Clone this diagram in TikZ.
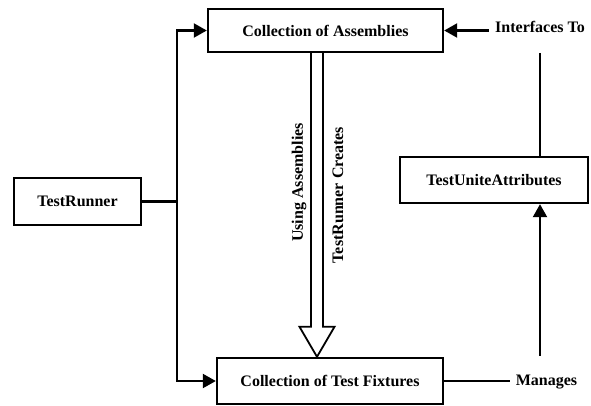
\documentclass[tikz,border=0pt]{standalone}
\usepackage{fontspec}
\setmainfont{Liberation Serif}
\usetikzlibrary{arrows.meta,calc}

\tikzset{
    box/.style={draw, line width=2.4pt, inner sep=0pt, font=\bfseries\fontsize{16}{19}\selectfont},
    note/.style={inner sep=6pt, font=\bfseries\fontsize{16}{19}\selectfont},
    side/.style={rotate=90, inner sep=0pt, font=\bfseries\fontsize{16}{19}\selectfont},
    link/.style={line width=2.2pt},
    arr/.style={link, -{Triangle[length=13pt,width=14pt]}},
    hollow/.style={line width=1.8pt, fill=white}
}

\begin{document}
\begin{tikzpicture}[x=1pt, y=-1pt]
    \useasboundingbox (0,0) rectangle (591,405);
    % boxes
    \node[box, minimum width=235pt, minimum height=43pt] (asm) at (325.5,30.5) {Collection of Assemblies};
    \node[box, minimum width=127pt, minimum height=47pt] (runner) at (77.5,201.5) {TestRunner};
    \node[box, minimum width=226pt, minimum height=46pt] (fix) at (330,381) {Collection of Test Fixtures};
    \node[box, minimum width=188pt, minimum height=46pt] (attr) at (494,180) {TestUniteAttributes};
    % free labels
    \node[note] (iface) at (540,27) {Interfaces To};
    \node[note] (manages) at (546.5,382) {Manages};
    % runner fans out to both collections
    \coordinate (split) at ($(runner.east)+(35,0)$);
    \draw[link] (runner.east) -- (split);
    \draw[arr] (split) |- (asm.west);
    \draw[arr] (split) |- (fix.west);
    % wide hollow arrow between the collections
    \coordinate (shaft) at ($(asm.south)+(-8.5,0)$);
    \coordinate (tip) at (shaft |- fix.north);
    \draw[hollow] ($(shaft)+(-6,0)$) -- ($(tip)+(-6,-30)$) -- ($(tip)+(-17.5,-30)$)
        -- (tip) -- ($(tip)+(17.5,-30)$) -- ($(tip)+(6,-30)$) -- ($(shaft)+(6,0)$);
    \node[side] (using) at (299,182.5) {Using Assemblies};
    \node[side] (creates) at (338,195) {TestRunner Creates};
    % right hand side
    \draw[arr] (asm.east -| iface.west) -- (asm.east);
    \draw[link, shorten <=14pt] (iface.south) -- (iface.south |- attr.north);
    \draw[link] (fix.east) -- (fix.east -| manages.west);
    \draw[arr, shorten <=13pt] (iface.south |- manages.north) -- (iface.south |- attr.south);
\end{tikzpicture}
\end{document}
